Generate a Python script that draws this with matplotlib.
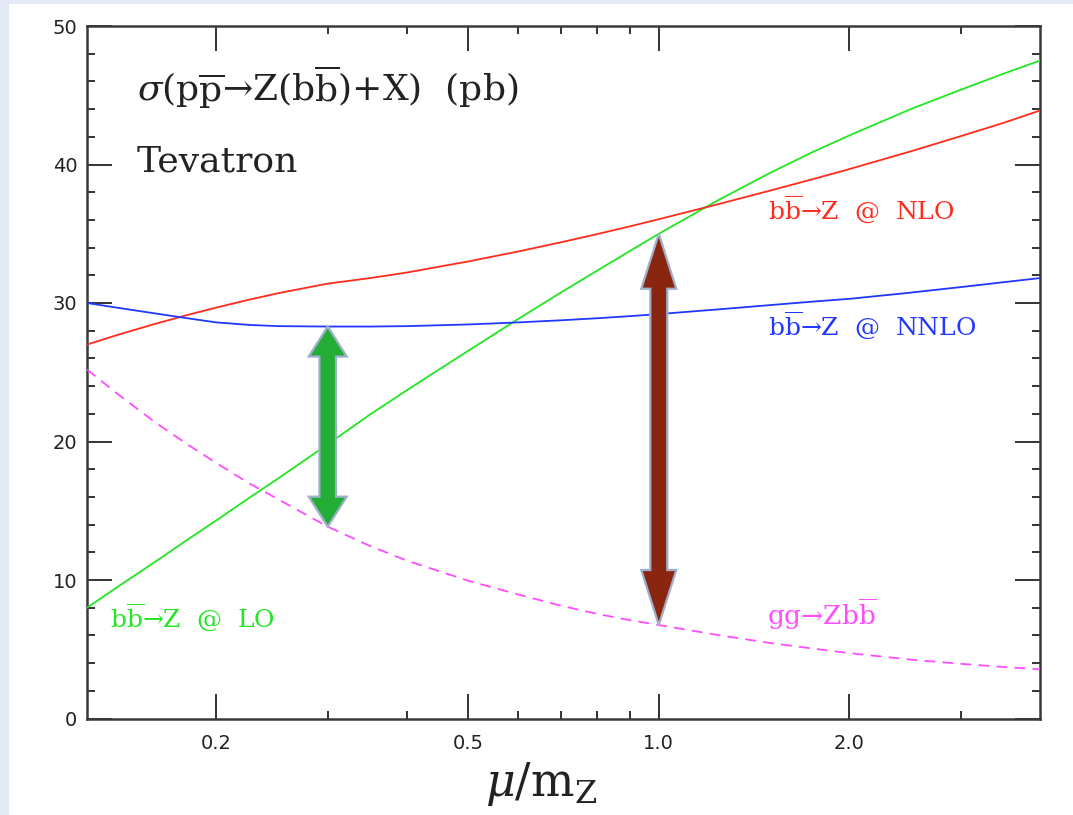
import numpy as np
import matplotlib
matplotlib.use('Agg')
import matplotlib.pyplot as plt
from matplotlib.patches import Polygon, Rectangle
from matplotlib.ticker import FixedLocator, FixedFormatter, NullFormatter, MultipleLocator

# ---- data ----
mu = [0.125, 0.14, 0.16, 0.18, 0.2, 0.225, 0.25, 0.3, 0.35, 0.4, 0.5, 0.6, 0.7, 0.8, 0.9,
      1.0, 1.25, 1.5, 1.75, 2.0, 2.5, 3.0, 3.5, 4.0]
sigma_lo   = [8.0, 9.53, 11.3, 12.9, 14.3, 15.9, 17.3, 19.8, 21.95, 23.7, 26.55, 28.85, 30.75,
              32.35, 33.75, 35.0, 37.5, 39.4, 40.9, 42.1, 44.0, 45.4, 46.55, 47.5]
sigma_nlo  = [27.0, 27.71, 28.49, 29.13, 29.67, 30.23, 30.7, 31.4, 31.8, 32.2, 33.0, 33.72, 34.38,
              34.98, 35.53, 36.05, 37.17, 38.12, 38.94, 39.67, 40.95, 42.05, 43.0, 43.9]
sigma_nnlo = [30.0, 29.65, 29.25, 28.9, 28.6, 28.42, 28.33, 28.3, 28.3, 28.33, 28.45, 28.6, 28.75,
              28.9, 29.05, 29.2, 29.55, 29.85, 30.1, 30.3, 30.75, 31.15, 31.5, 31.8]
sigma_gg   = [25.2, 23.4, 21.4, 19.8, 18.45, 17.0, 15.85, 13.85, 12.45, 11.4, 9.95, 8.95, 8.15,
              7.55, 7.1, 6.75, 6.0, 5.45, 5.05, 4.72, 4.25, 3.95, 3.72, 3.55]

x_major = [0.2, 0.5, 1.0, 2.0]
x_major_labels = ['0.2', '0.5', '1.0', '2.0']
x_minor = [0.3, 0.4, 0.6, 0.7, 0.8, 0.9, 3.0]
y_major = [0, 10, 20, 30, 40, 50]

arrow_green_mu = 0.3   # spread between NNLO and gg at mu = 0.3 mZ
arrow_brown_mu = 1.0   # spread between LO and gg at mu = mZ

plt.rcParams['mathtext.fontset'] = 'dejavuserif'

W, H, DPI = 1073, 815, 100
fig = plt.figure(figsize=(W / DPI, H / DPI), dpi=DPI)
fig.patch.set_facecolor('#e2eaf5')
fig.patches.append(Rectangle((9 / W, 0), 1 - 9 / W, 1 - 4 / H, transform=fig.transFigure,
                             facecolor='white', edgecolor='none', zorder=-5))

ax = fig.add_axes([87 / W, 1 - 718.5 / H, (1040 - 87) / W, (718.5 - 26) / H])
ax.set_zorder(1)
ax.set_xscale('log')
ax.set_xlim(0.125, 4.0)
ax.set_ylim(0, 50)

lw = 1.3
ax.plot(mu, sigma_lo, color='#22e622', lw=lw, zorder=3)
ax.plot(mu, sigma_nlo, color='#ff2b1c', lw=lw, zorder=3)
ax.plot(mu, sigma_nnlo, color='#2038ff', lw=lw, zorder=3)
ax.plot(mu, sigma_gg, color='#ff4cff', lw=lw, ls=(0, (6, 4)), zorder=3)

# ticks
ax.xaxis.set_major_locator(FixedLocator(x_major))
ax.xaxis.set_major_formatter(FixedFormatter(x_major_labels))
ax.xaxis.set_minor_locator(FixedLocator(x_minor))
ax.xaxis.set_minor_formatter(NullFormatter())
ax.yaxis.set_major_locator(FixedLocator(y_major))
ax.yaxis.set_minor_locator(MultipleLocator(2))
ax.tick_params(which='both', direction='in', top=True, right=True, colors='#333333',
               width=1.4)
ax.tick_params(which='major', length=18)
ax.tick_params(which='minor', length=6)
ax.tick_params(axis='x', which='major', labelsize=14, pad=11, labelcolor='#222222')
ax.tick_params(axis='y', which='major', labelsize=14, pad=7, labelcolor='#222222')
for s in ax.spines.values():
    s.set_color('#3a3a3a')
    s.set_linewidth(1.8)

serif = 'DejaVu Serif'
ax.text(0.0525, 0.890, r'$\sigma(\mathrm{p\overline{p}}$→Z($\mathrm{b\overline{b}}$)+X)  (pb)',
        transform=ax.transAxes, fontsize=26, family=serif, va='baseline', color='#222222')
ax.text(0.0525, 0.790, 'Tevatron', transform=ax.transAxes, fontsize=26, family=serif,
        va='baseline', color='#222222')

ax.text(0.7146, 0.7213, r'$\mathrm{b\overline{b}}$→Z  @  NLO', transform=ax.transAxes,
        fontsize=18, family=serif, va='baseline', color='#ff2b1c')
ax.text(0.7146, 0.5538, r'$\mathrm{b\overline{b}}$→Z  @  NNLO', transform=ax.transAxes,
        fontsize=18, family=serif, va='baseline', color='#2038ff')
ax.text(0.0241, 0.1326, r'$\mathrm{b\overline{b}}$→Z  @  LO', transform=ax.transAxes,
        fontsize=18, family=serif, va='baseline', color='#22e622')
ax.text(0.7136, 0.135, r'gg→Z$\mathrm{b\overline{b}}$', transform=ax.transAxes,
        fontsize=19, family=serif, va='baseline', color='#ff4cff')

ax.text(0.476, -0.112, r'$\mu/\mathrm{m_Z}$', transform=ax.transAxes, fontsize=33,
        ha='center', va='baseline', color='#222222')


def double_arrow(x, y_low, y_high, color, shaft_hw, head_hw, head_len):
    X, Y0 = ax.transData.transform((x, y_low))
    _, Y1 = ax.transData.transform((x, y_high))
    pts = [(X, Y1), (X + head_hw, Y1 - head_len), (X + shaft_hw, Y1 - head_len),
           (X + shaft_hw, Y0 + head_len), (X + head_hw, Y0 + head_len), (X, Y0),
           (X - head_hw, Y0 + head_len), (X - shaft_hw, Y0 + head_len),
           (X - shaft_hw, Y1 - head_len), (X - head_hw, Y1 - head_len)]
    poly = Polygon(pts, closed=True, transform=None, facecolor=color,
                   edgecolor='#9fb0ca', lw=1.6, zorder=5)
    fig.patches.append(poly)


ig = mu.index(arrow_green_mu)
ib = mu.index(arrow_brown_mu)
double_arrow(arrow_green_mu, sigma_gg[ig], sigma_nnlo[ig], '#23ad37', 8.3, 19, 30)
double_arrow(arrow_brown_mu, sigma_gg[ib], sigma_lo[ib], '#8a2510', 8.5, 17.5, 55)

fig.savefig('out.png', dpi=DPI, facecolor=fig.get_facecolor())
